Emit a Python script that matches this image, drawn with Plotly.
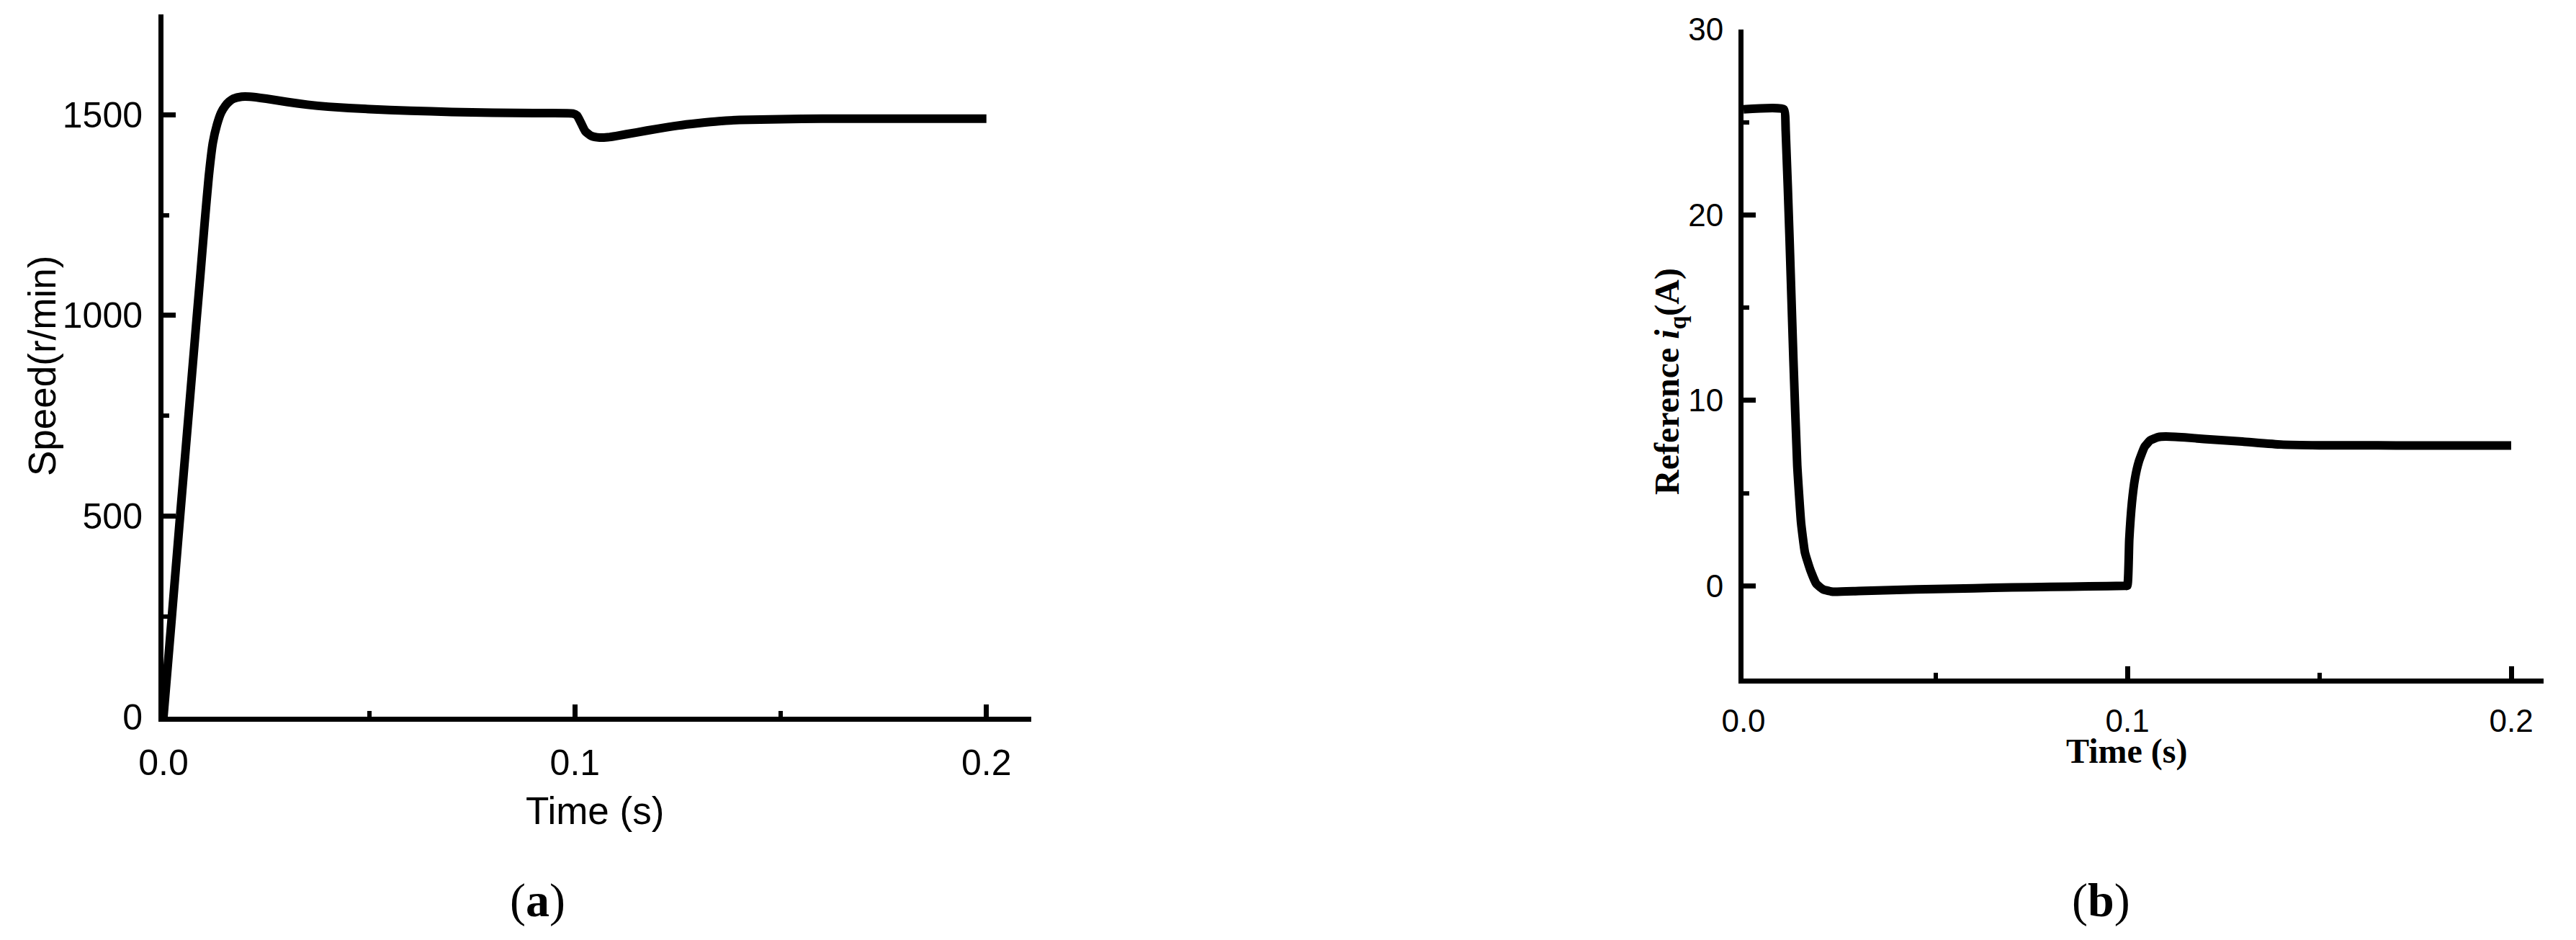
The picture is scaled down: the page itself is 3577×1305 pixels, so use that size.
import plotly.graph_objects as go

W, H = 3577, 1305
OFF = 8  # default page margin of the html body

# ---- data ----
t_speed = [0, 0.002, 0.004, 0.006, 0.008, 0.009, 0.010, 0.011, 0.012, 0.013,
           0.014, 0.015, 0.016, 0.017, 0.019, 0.021, 0.025, 0.03, 0.035, 0.04,
           0.05, 0.06, 0.07, 0.08, 0.09, 0.0995, 0.1005, 0.1015, 0.1025, 0.104,
           0.106, 0.108, 0.11, 0.115, 0.12, 0.125, 0.13, 0.135, 0.14, 0.15,
           0.16, 0.18, 0.2]
speed = [0, 245, 495, 740, 985, 1105, 1230, 1345, 1430, 1475,
         1505, 1522, 1533, 1540, 1545, 1545, 1540, 1532, 1525, 1520,
         1514, 1510, 1507, 1505, 1504, 1503, 1498, 1479, 1459, 1447,
         1443, 1444, 1447, 1456, 1465, 1473, 1479, 1484, 1487, 1489,
         1490, 1490, 1490]

t_iq = [0, 0.0105, 0.011, 0.012, 0.013, 0.014, 0.015, 0.016, 0.0174, 0.019,
        0.0208, 0.0233, 0.03, 0.04, 0.05, 0.06, 0.07, 0.08, 0.09, 0.0995,
        0.1, 0.1005, 0.1012, 0.102, 0.103, 0.1045, 0.106, 0.108, 0.11, 0.115,
        0.12, 0.13, 0.14, 0.15, 0.17, 0.2]
iq_ref = [25.7, 25.7, 24.5, 18.7, 12.2, 6.5, 3.4, 1.8, 0.86, 0.1,
          -0.2, -0.32, -0.28, -0.22, -0.17, -0.13, -0.09, -0.06, -0.03, 0.0,
          0.0, 2.5, 4.5, 5.8, 6.7, 7.5, 7.85, 8.02, 8.05, 8.0,
          7.92, 7.78, 7.62, 7.58, 7.57, 7.57]

x_ticks = [0.0, 0.1, 0.2]
x_ticklabels = ["0.0", "0.1", "0.2"]
speed_ticks = [0, 500, 1000, 1500]
iq_ticks = [0, 10, 20, 30]


def px_x(p):
    return (p - OFF) / W


def px_y(p):
    return 1 - (p - OFF) / H


fig = go.Figure()
fig.add_trace(go.Scatter(x=t_speed, y=speed, mode="lines",
                         line=dict(color="black", width=12, shape="spline",
                                   smoothing=0.5),
                         xaxis="x", yaxis="y", showlegend=False))
fig.add_trace(go.Scatter(x=t_iq, y=iq_ref, mode="lines",
                         line=dict(color="black", width=12, shape="spline",
                                   smoothing=0.4),
                         xaxis="x2", yaxis="y2", showlegend=False))

sans = "Liberation Sans, Arial, sans-serif"
serif = "Liberation Serif, Times New Roman, serif"

common = dict(showgrid=False, zeroline=False, showline=True, linecolor="black",
              linewidth=7, ticks="inside", ticklen=17, tickwidth=7,
              tickcolor="black", automargin=False)

fig.update_layout(
    template="none",
    width=W, height=H,
    margin=dict(l=0, r=0, t=0, b=0, autoexpand=False),
    paper_bgcolor="white", plot_bgcolor="white",
    xaxis=dict(domain=[px_x(227), px_x(1432)], range=[0, 0.2109],
               tickvals=x_ticks, ticktext=x_ticklabels, anchor="y",
               tickfont=dict(family=sans, size=50, color="black"),
               ticklabelstandoff=14,
               minor=dict(ticks="inside", ticklen=8, tickwidth=6,
                          tickcolor="black", dtick=0.05, tick0=0),
               **common),
    yaxis=dict(domain=[px_y(995), px_y(20)], range=[0, 1750],
               tickvals=speed_ticks, anchor="x",
               tickfont=dict(family=sans, size=50, color="black"),
               ticklabelstandoff=12,
               minor=dict(ticks="inside", ticklen=8, tickwidth=6,
                          tickcolor="black", dtick=250, tick0=0),
               **common),
    xaxis2=dict(domain=[px_x(2421), px_x(3532)], range=[0, 0.20844],
                tickvals=x_ticks, ticktext=x_ticklabels, anchor="y2",
                tickfont=dict(family=sans, size=44, color="black"),
                ticklabelstandoff=14,
                minor=dict(ticks="inside", ticklen=8, tickwidth=6,
                           tickcolor="black", dtick=0.05, tick0=0),
                **common),
    yaxis2=dict(domain=[px_y(942), px_y(41)], range=[-5, 30],
                tickvals=iq_ticks, anchor="x2",
                tickfont=dict(family=sans, size=44, color="black"),
                ticklabelstandoff=12,
                minor=dict(ticks="inside", ticklen=8, tickwidth=6,
                           tickcolor="black", dtick=5, tick0=0),
                **common),
)

annotations = [
    dict(text="Time (s)", x=px_x(826), y=px_y(1125), xref="paper", yref="paper",
         showarrow=False, font=dict(family=sans, size=53, color="black"),
         xanchor="center", yanchor="middle"),
    dict(text="Speed(r/min)", x=px_x(58), y=px_y(508), xref="paper", yref="paper",
         showarrow=False, textangle=-90,
         font=dict(family=sans, size=53, color="black"),
         xanchor="center", yanchor="middle"),
    dict(text="<b>Time (s)</b>", x=px_x(2953), y=px_y(1043), xref="paper", yref="paper",
         showarrow=False, font=dict(family=serif, size=48, color="black"),
         xanchor="center", yanchor="middle"),
    dict(text="<b>Reference <i>i</i><sub>q</sub>(A)</b>", x=px_x(2318), y=px_y(530),
         xref="paper", yref="paper", showarrow=False, textangle=-90,
         font=dict(family=serif, size=48, color="black"),
         xanchor="center", yanchor="middle"),
    dict(text="(<b>a</b>)", x=px_x(746), y=px_y(1250), xref="paper", yref="paper",
         showarrow=False, font=dict(family=serif, size=66, color="black"),
         xanchor="center", yanchor="middle"),
    dict(text="(<b>b</b>)", x=px_x(2917), y=px_y(1250), xref="paper", yref="paper",
         showarrow=False, font=dict(family=serif, size=66, color="black"),
         xanchor="center", yanchor="middle"),
]
fig.update_layout(annotations=annotations)

fig.write_html("out.html")
